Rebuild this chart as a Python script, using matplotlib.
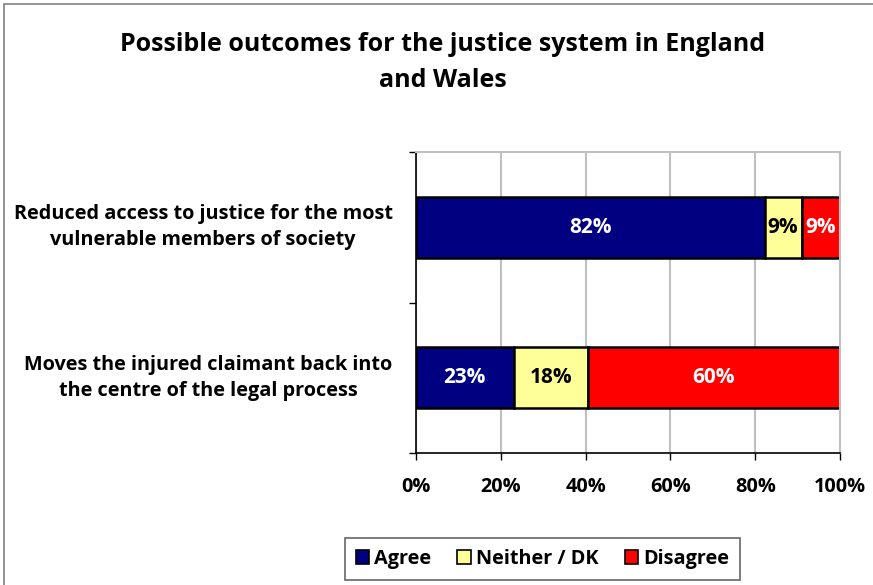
import matplotlib
matplotlib.use("Agg")
import matplotlib.pyplot as plt
from matplotlib.patches import Rectangle, Patch

# data (percent)
categories = ["Reduced access to justice for the most\nvulnerable members of society",
              "Moves the injured claimant back into\nthe centre of the legal process"]
series_names = ["Agree", "Neither / DK", "Disagree"]
agree = [82.2, 23.0]
neither = [8.8, 17.5]
disagree = [9.0, 59.5]
series_colors = ["#000080", "#FFFF99", "#FF0000"]
label_colors = ["white", "black", "white"]
xticks = [0, 20, 40, 60, 80, 100]

plt.rcParams["font.family"] = ["Open Sans", "DejaVu Sans"]
plt.rcParams["font.weight"] = "bold"

fig = plt.figure(figsize=(8.73, 5.85), dpi=100)
fig.patches.append(Rectangle((0.005, -0.01), 1.2, 1.0035, transform=fig.transFigure,
                             fill=False, edgecolor="#808080", linewidth=1.2))

ax = fig.add_axes([0.4765, 0.2256, 0.4857, 0.5146])

ypos = [0.5, 1.5]
left = [0.0, 0.0]
for name, vals, col, tcol in zip(series_names, [agree, neither, disagree], series_colors, label_colors):
    bars = ax.barh(ypos, vals, left=left, height=0.405, color=col,
                   edgecolor="black", linewidth=1.8, label=name)
    for y, l, v in zip(ypos, left, vals):
        ax.text(l + v / 2, y, f"{v:.0f}%", ha="center", va="center",
                color=tcol, fontsize=15, fontweight="bold")
    left = [a + b for a, b in zip(left, vals)]

ax.set_xlim(0, 100)
ax.set_ylim(2, 0)
ax.set_xticks(xticks)
ax.set_xticklabels([f"{t}%" for t in xticks], fontsize=14.3, fontweight="bold")
ax.set_yticks([0, 1, 2])
ax.set_yticklabels([])
ax.tick_params(axis="both", direction="out", length=5, width=1, color="black")
ax.tick_params(axis="x", pad=12)
ax.grid(axis="x", color="#c0c0c0", linewidth=1.5)
ax.set_axisbelow(True)
ax.spines["top"].set_color("#c0c0c0")
ax.spines["right"].set_color("#c0c0c0")
ax.spines["top"].set_linewidth(1.5)
ax.spines["right"].set_linewidth(1.5)
ax.spines["left"].set_linewidth(1.2)
ax.spines["bottom"].set_linewidth(1.2)

for y, cat in zip(ypos, categories):
    ax.text(-0.055, 1 - y / 2, cat, transform=ax.transAxes, ha="right", va="center",
            multialignment="center", fontsize=14.3, fontweight="bold", linespacing=1.42)

fig.text(0.507, 0.8935, "Possible outcomes for the justice system in England\nand Wales",
         ha="center", va="center", fontsize=18, fontweight="bold", linespacing=1.55)

handles = [Patch(facecolor=c, edgecolor="black", linewidth=1.2) for c in series_colors]
leg = fig.legend(handles, series_names, loc="center", bbox_to_anchor=(0.6214, 0.0444),
                 ncol=3, frameon=True, fancybox=False, fontsize=14.3,
                 handlelength=0.7, handleheight=0.7, handletextpad=0.25, columnspacing=1.3,
                 borderpad=0.55)
leg.get_frame().set_edgecolor("#404040")
leg.get_frame().set_linewidth(1.2)

fig.savefig("out.png", dpi=100)
